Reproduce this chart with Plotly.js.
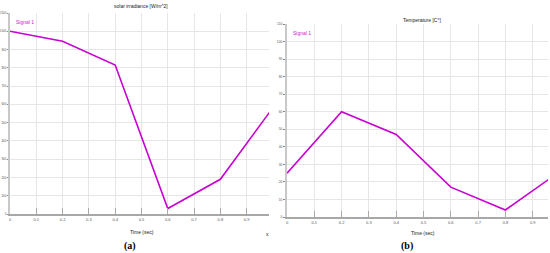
<!DOCTYPE html>
<html><head><meta charset="utf-8">
<script src="https://cdn.plot.ly/plotly-3.0.1.min.js"></script>
<style>html,body{margin:0;padding:0;background:#fff}#chart{width:550px;height:253px}</style>
</head><body><div id="chart"></div>
<script>
const timeA = [0, 0.2, 0.4, 0.6, 0.8, 1.0];
const irradiance = [1000, 945, 815, 30, 190, 582];
const timeB = [0, 0.2, 0.4, 0.6, 0.8, 1.0];
const temperature = [25, 60, 47, 17, 4, 26];
const xTicks = [0, 0.1, 0.2, 0.3, 0.4, 0.5, 0.6, 0.7, 0.8, 0.9];
const yTicksA = [0, 100, 200, 300, 400, 500, 600, 700, 800, 900, 1000, 1100];
const yTicksB = [0, 10, 20, 30, 40, 50, 60, 70, 80, 90, 100, 110];

const lineColor = '#c800d2';
const fam = 'Liberation Sans Narrow, Liberation Sans, Arial';
const gridC = '#e6e6e6';

function xa(domain, range, anchor) {
  return {domain: domain, range: range, anchor: anchor, tickvals: xTicks, ticktext: xTicks.map(String),
    showgrid: true, gridcolor: gridC, gridwidth: 1, zeroline: false,
    showline: true, linecolor: '#a8a8a8', linewidth: 2,
    ticks: 'inside', ticklen: 6, tickcolor: '#aaa', tickwidth: 1,
    tickfont: {family: fam, size: 4, color: '#555'}, fixedrange: true};
}
function ya(domain, range, vals, anchor, tl, fs) {
  return {domain: domain, range: range, anchor: anchor, tickvals: vals, ticktext: vals.map(String),
    showgrid: true, gridcolor: gridC, gridwidth: 1, zeroline: false,
    showline: true, linecolor: '#c8c8c8', linewidth: 2,
    ticks: 'outside', ticklen: tl, tickcolor: '#888', tickwidth: 1,
    tickfont: {family: fam, size: fs, color: '#555'}, fixedrange: true};
}

const data = [
  {x: timeA, y: irradiance, type: 'scatter', mode: 'lines', line: {color: lineColor, width: 1.6}, xaxis: 'x', yaxis: 'y', cliponaxis: true},
  {x: timeB, y: temperature, type: 'scatter', mode: 'lines', line: {color: lineColor, width: 1.6}, xaxis: 'x2', yaxis: 'y2', cliponaxis: true}
];

const f = {family: fam, size: 5, color: '#222'};
const layout = {
  width: 550, height: 253, margin: {l: 0, r: 0, t: 0, b: 0},
  paper_bgcolor: '#fff', plot_bgcolor: '#fff', showlegend: false,
  xaxis: xa([10/550, 269/550], [0, 0.985], 'y'),
  yaxis: ya([(253-214)/253, (253-13)/253], [0, 1100], yTicksA, 'x', 1, 3.0),
  xaxis2: xa([287/550, 548/550], [0, 0.956], 'y2'),
  yaxis2: ya([(253-217)/253, (253-24)/253], [0, 110], yTicksB, 'x2', 2, 3.3),
  annotations: [
    {xref: 'paper', yref: 'paper', x: 141/550, y: (253-6)/253, text: 'solar irradiance [W/m^2]', showarrow: false, font: f, xanchor: 'center', yanchor: 'middle'},
    {xref: 'paper', yref: 'paper', x: 422/550, y: (253-20)/253, text: 'Temperature [C°]', showarrow: false, font: f, xanchor: 'center', yanchor: 'middle'},
    {xref: 'paper', yref: 'paper', x: 14/550, y: (253-22)/253, text: 'Signal 1', showarrow: false, font: {family: fam, size: 5, color: '#d020d0'}, xanchor: 'left', yanchor: 'middle'},
    {xref: 'paper', yref: 'paper', x: 291/550, y: (253-33)/253, text: 'Signal 1', showarrow: false, font: {family: fam, size: 5, color: '#d020d0'}, xanchor: 'left', yanchor: 'middle'},
    {xref: 'paper', yref: 'paper', x: 142/550, y: (253-232)/253, text: 'Time (sec)', showarrow: false, font: f, xanchor: 'center', yanchor: 'middle'},
    {xref: 'paper', yref: 'paper', x: 423/550, y: (253-233)/253, text: 'Time (sec)', showarrow: false, font: f, xanchor: 'center', yanchor: 'middle'},
    {xref: 'paper', yref: 'paper', x: 267/550, y: (253-234)/253, text: 'x', showarrow: false, font: f, xanchor: 'center', yanchor: 'middle'},
    {xref: 'paper', yref: 'paper', x: 130/550, y: (253-246)/253, text: '<b>(a)</b>', showarrow: false, font: {family: 'Liberation Serif, Times New Roman, serif', size: 10, color: '#000'}, xanchor: 'center', yanchor: 'middle'},
    {xref: 'paper', yref: 'paper', x: 407/550, y: (253-246)/253, text: '<b>(b)</b>', showarrow: false, font: {family: 'Liberation Serif, Times New Roman, serif', size: 10, color: '#000'}, xanchor: 'center', yanchor: 'middle'}
  ]
};
Plotly.newPlot('chart', data, layout, {staticPlot: true, displayModeBar: false});
</script></body></html>
